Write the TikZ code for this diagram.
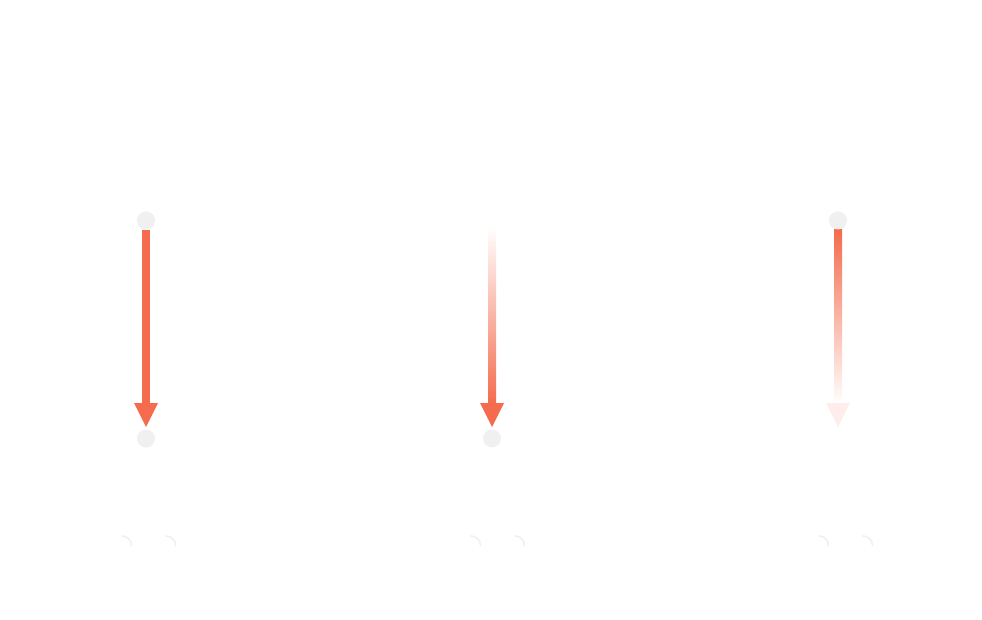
\documentclass[tikz,border=0pt]{standalone}
\usetikzlibrary{calc}
\definecolor{arrowred}{RGB}{244,107,77}
\definecolor{dotgray}{RGB}{240,240,240}
\tikzset{dot/.style={circle, fill=dotgray, inner sep=0pt, minimum size=18pt},
         tick/.style={dotgray, line width=1.6pt, line cap=round}}

\begin{document}
\begin{tikzpicture}[x=1pt,y=-1pt]
  \useasboundingbox (0,0) rectangle (982,620);
  % ends of the three arrows
  \node[dot]   (a1) at (146,220.5) {};
  \node[dot]   (b1) at (146,438.5) {};
  \coordinate  (a2) at (492,227);
  \node[dot]   (b2) at (492,438.5) {};
  \node[dot]   (a3) at (838,220.5) {};
  \coordinate  (b3) at (838,438.5);
  \coordinate  (t1) at (146,427);
  \coordinate  (t2) at (492,427);
  \coordinate  (t3) at (838,427);

  % solid arrow
  \fill[arrowred] ($(a1.south)+(-4,0)$) rectangle ($(t1)+(4,-23)$);
  \fill[arrowred] ($(t1)+(-12,-24)$) -- ($(t1)+(12,-24)$) -- (t1) -- cycle;
  % fading in
  \shade[top color=white, bottom color=arrowred] ($(a2)+(-4,0)$) rectangle ($(t2)+(4,-23)$);
  \fill[arrowred] ($(t2)+(-12,-24)$) -- ($(t2)+(12,-24)$) -- (t2) -- cycle;
  % fading out
  \shade[top color=arrowred, bottom color=white] ($(a3.south)+(-4,0)$) rectangle ($(t3)+(4,-23)$);
  \fill[arrowred!12] ($(t3)+(-12,-24)$) -- ($(t3)+(12,-24)$) -- (t3) -- cycle;

  \node[dot] at (a1) {};
  \node[dot] at (a3) {};

  \draw[tick] (122,536) arc[start angle=-90, end angle=0, radius=9.5];
  \draw[tick] (166,536) arc[start angle=-90, end angle=0, radius=9.5];
  \draw[tick] (471,536) arc[start angle=-90, end angle=0, radius=9.5];
  \draw[tick] (515,536) arc[start angle=-90, end angle=0, radius=9.5];
  \draw[tick] (819,536) arc[start angle=-90, end angle=0, radius=9.5];
  \draw[tick] (863,536) arc[start angle=-90, end angle=0, radius=9.5];
\end{tikzpicture}
\end{document}
